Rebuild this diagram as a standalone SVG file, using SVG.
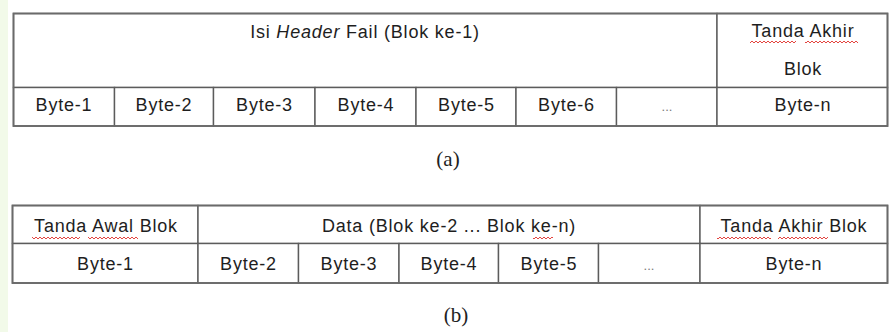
<svg xmlns="http://www.w3.org/2000/svg" width="893" height="332" viewBox="0 0 893 332">
  <style>
    .cell { fill: #ffffff; stroke: #5c5c5c; stroke-width: 1.4; }
    .frame { fill: none; stroke: #6a6a6a; stroke-width: 1.8; }
    .lbl { font-family: "Liberation Sans", Arial, sans-serif; font-size: 18px; letter-spacing: 0.8px; fill: #1e1e1e; text-anchor: middle; }
    .dots { font-family: "Liberation Sans", Arial, sans-serif; font-size: 13px; fill: #7a7a7a; text-anchor: middle; }
    .cap { font-family: "Liberation Serif", "Times New Roman", serif; font-size: 21px; fill: #222222; text-anchor: middle; }
    .squig { fill: url(#wave); }
  </style>
  <defs>
    <!-- spell-check style wavy underline -->
    <pattern id="wave" width="4" height="4" patternUnits="userSpaceOnUse">
      <path d="M0 1 L2 3 L4 1" fill="none" stroke="#e0302a" stroke-width="0.9"/>
    </pattern>
  </defs>

  <rect x="0" y="0" width="893" height="332" fill="#ffffff"/>
  <rect x="0" y="0" width="8" height="332" fill="#f2fae9"/>

  <!-- (a) header block layout -->
  <g id="table-a">
    <g id="a-header">
      <rect class="cell" x="13.5" y="13.5" width="703.5" height="74"/>
      <text class="lbl" x="365" y="38">Isi <tspan font-style="italic">Header</tspan> Fail (Blok ke-1)</text>
    </g>
    <g id="a-end-mark">
      <rect class="cell" x="717" y="13.5" width="170.5" height="74"/>
      <text class="lbl" x="803" y="37">Tanda Akhir</text>
      <text class="lbl" x="803" y="75">Blok</text>
      <rect class="squig" x="750" y="40" width="46" height="4"/>
      <rect class="squig" x="805" y="40" width="53" height="4"/>
    </g>
    <g id="a-byte-1"><rect class="cell" x="13.5" y="87.5" width="101" height="38.5"/><text class="lbl" x="64" y="111">Byte-1</text></g>
    <g id="a-byte-2"><rect class="cell" x="114.5" y="87.5" width="99" height="38.5"/><text class="lbl" x="164" y="111">Byte-2</text></g>
    <g id="a-byte-3"><rect class="cell" x="213.5" y="87.5" width="101.5" height="38.5"/><text class="lbl" x="264.5" y="111">Byte-3</text></g>
    <g id="a-byte-4"><rect class="cell" x="315" y="87.5" width="101" height="38.5"/><text class="lbl" x="366" y="111">Byte-4</text></g>
    <g id="a-byte-5"><rect class="cell" x="416" y="87.5" width="100" height="38.5"/><text class="lbl" x="466.5" y="111">Byte-5</text></g>
    <g id="a-byte-6"><rect class="cell" x="516" y="87.5" width="100.5" height="38.5"/><text class="lbl" x="566.5" y="111">Byte-6</text></g>
    <g id="a-byte-more"><rect class="cell" x="616.5" y="87.5" width="100.5" height="38.5"/><text class="dots" x="667" y="111">...</text></g>
    <g id="a-byte-n"><rect class="cell" x="717" y="87.5" width="170.5" height="38.5"/><text class="lbl" x="803" y="111">Byte-n</text></g>
    <rect class="frame" x="13.5" y="13.5" width="874" height="112.5"/>
  </g>
  <text class="cap" x="448" y="166">(a)</text>

  <!-- (b) data block layout -->
  <g id="table-b">
    <g id="b-start-mark">
      <rect class="cell" x="12.5" y="205.5" width="185.5" height="38"/>
      <text class="lbl" x="106" y="232">Tanda Awal Blok</text>
      <rect class="squig" x="32" y="236" width="48" height="4"/>
      <rect class="squig" x="88" y="236" width="50" height="4"/>
    </g>
    <g id="b-data">
      <rect class="cell" x="198" y="205.5" width="502" height="38"/>
      <text class="lbl" x="449" y="232">Data (Blok ke-2 ... Blok ke-n)</text>
      <rect class="squig" x="533" y="236" width="20" height="4"/>
    </g>
    <g id="b-end-mark">
      <rect class="cell" x="700" y="205.5" width="187.5" height="38"/>
      <text class="lbl" x="794" y="232">Tanda Akhir Blok</text>
      <rect class="squig" x="717" y="236" width="54" height="4"/>
      <rect class="squig" x="778" y="236" width="50" height="4"/>
    </g>
    <g id="b-byte-1"><rect class="cell" x="12.5" y="243.5" width="185.5" height="39.5"/><text class="lbl" x="105.5" y="270">Byte-1</text></g>
    <g id="b-byte-2"><rect class="cell" x="198" y="243.5" width="100.5" height="39.5"/><text class="lbl" x="248.5" y="270">Byte-2</text></g>
    <g id="b-byte-3"><rect class="cell" x="298.5" y="243.5" width="100.5" height="39.5"/><text class="lbl" x="349" y="270">Byte-3</text></g>
    <g id="b-byte-4"><rect class="cell" x="399" y="243.5" width="99.5" height="39.5"/><text class="lbl" x="449" y="270">Byte-4</text></g>
    <g id="b-byte-5"><rect class="cell" x="498.5" y="243.5" width="100" height="39.5"/><text class="lbl" x="549" y="270">Byte-5</text></g>
    <g id="b-byte-more"><rect class="cell" x="598.5" y="243.5" width="101.5" height="39.5"/><text class="dots" x="649" y="270">...</text></g>
    <g id="b-byte-n"><rect class="cell" x="700" y="243.5" width="187.5" height="39.5"/><text class="lbl" x="794" y="270">Byte-n</text></g>
    <rect class="frame" x="12.5" y="205.5" width="875" height="77.5"/>
  </g>
  <text class="cap" x="456" y="322">(b)</text>

  <!-- no connectors in this figure -->
  <g id="connectors"/>
</svg>
